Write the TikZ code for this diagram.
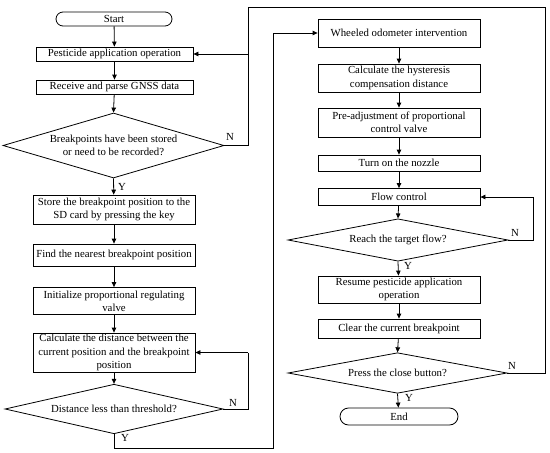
\documentclass[tikz,border=0pt]{standalone}
\usepackage{fontspec}
\setmainfont{Liberation Serif}
\usetikzlibrary{shapes.geometric,arrows.meta}
\begin{document}
\begin{tikzpicture}[x=1pt,y=-1pt,
  every node/.style={font=\fontsize{10.8}{13.2}\selectfont, inner sep=1pt},
  pbox/.style={draw, line width=0.8pt, minimum width=162pt, align=center},
  term/.style={draw, line width=0.8pt, align=center, rounded corners=7pt},
  dec/.style={draw, line width=0.8pt, diamond, aspect=3, inner sep=0pt, align=center},
  line/.style={line width=0.8pt},
  arr/.style={line width=0.8pt, -{Triangle[length=5pt,width=4.5pt]}},
  lab/.style={font=\fontsize{10.8}{13}\selectfont, inner sep=0pt}]
\useasboundingbox (0,0) rectangle (550,453);
% left column
\node[term, minimum width=116pt, minimum height=14pt] (start) at (114,19) {Start};
\node[pbox, minimum width=157pt, minimum height=14pt] (pest) at (114.5,54) {Pesticide application operation};
\node[pbox, minimum width=157pt, minimum height=14pt] (recv) at (114.5,87) {Receive and parse GNSS data};
\node[dec, minimum width=221pt, minimum height=65pt] (d1) at (113.5,145.5) {Breakpoints have been stored\\or need to be recorded?};
\node[pbox, minimum height=29pt] (store) at (114,209.5) {Store the breakpoint position to the\\SD card by pressing the key};
\node[pbox, minimum height=22pt] (find) at (114,255) {Find the nearest breakpoint position};
\node[pbox, minimum height=27pt] (init) at (114,301) {Initialize proportional regulating\\valve};
\node[pbox, minimum height=39pt] (calc) at (114,352.5) {Calculate the distance between the\\current position and the breakpoint\\position};
\node[dec, minimum width=218pt, minimum height=38pt] (d2) at (114,409) {Distance less than threshold?};
% right column
\node[pbox, minimum height=28pt] (wheel) at (399,33) {Wheeled odometer intervention};
\node[pbox, minimum height=28pt] (hyst) at (399,78) {Calculate the hysteresis\\compensation distance};
\node[pbox, minimum height=29pt] (pre) at (399,122.5) {Pre-adjustment of proportional\\control valve};
\node[pbox, minimum height=16pt] (turn) at (399,163) {Turn on the nozzle};
\node[pbox, minimum height=17pt] (flow) at (399,197) {Flow control};
\node[dec, minimum width=220pt, minimum height=40pt] (d3) at (398,240) {Reach the target flow?};
\node[pbox, minimum height=27pt] (resume) at (399,289.5) {Resume pesticide application\\operation};
\node[pbox, minimum height=19pt] (clear) at (399,328.5) {Clear the current breakpoint};
\node[dec, minimum width=219pt, minimum height=34pt] (d4) at (397.5,373) {Press the close button?};
\node[term, minimum width=118pt, minimum height=17pt, rounded corners=8.5pt] (end) at (399,416.5) {End};
% junction coordinates
\coordinate (j1) at (248,145.5);
\coordinate (j2) at (248,54);
\coordinate (j3) at (248,7);
\coordinate (j4) at (545,373);
\coordinate (j5) at (545,7);
\coordinate (k1) at (248,409);
\coordinate (k2) at (248,352.5);
\coordinate (m1) at (114,448);
\coordinate (m2) at (273,448);
\coordinate (m3) at (273,33);
\coordinate (n1) at (533,240);
\coordinate (n2) at (533,197);
% connectors left
\draw[arr] (start) -- (pest);
\draw[arr] (pest) -- (recv);
\draw[arr] (recv) -- (d1.north);
\draw[arr] (d1.south) -- (store);
\draw[arr] (store) -- (find);
\draw[arr] (find) -- (init);
\draw[arr] (init) -- (calc);
\draw[arr] (calc) -- (d2.north);
\draw[line] (d1.east) -- (j1) -- (j2);
\draw[line] (d4.east) -- (j4) -- (j5) -- (j3) -- (j2);
\draw[arr] (j2) -- (pest.east);
\draw[line] (d2.east) -- (k1) -- (k2);
\draw[arr] (k2) -- (calc.east);
\draw[line] (d2.south) -- (m1) -- (m2) -- (m3);
\draw[arr] (m3) -- (wheel.west);
% connectors right
\draw[arr] (wheel) -- (hyst);
\draw[arr] (hyst) -- (pre);
\draw[arr] (pre) -- (turn);
\draw[arr] (turn) -- (flow);
\draw[arr] (flow) -- (d3.north);
\draw[line] (d3.east) -- (n1) -- (n2);
\draw[arr] (n2) -- (flow.east);
\draw[arr] (d3.south) -- (resume);
\draw[arr] (resume) -- (clear);
\draw[arr] (clear) -- (d4.north);
\draw[arr] (d4.south) -- (end);
% labels
\node[lab] (ln1) at (230,137) {N};
\node[lab] (ly1) at (122,187) {Y};
\node[lab] (ln2) at (233,403) {N};
\node[lab] (ly2) at (125,438) {Y};
\node[lab] (ln3) at (515,233) {N};
\node[lab] (ly3) at (408,266) {Y};
\node[lab] (ln4) at (512,366) {N};
\node[lab] (ly4) at (409,398) {Y};
\end{tikzpicture}
\end{document}
